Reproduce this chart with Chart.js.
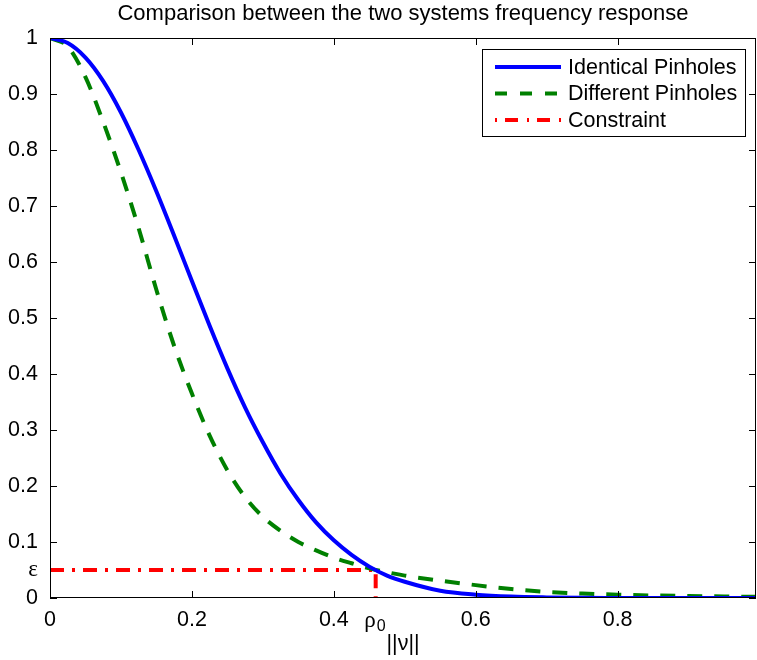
<!DOCTYPE html>
<html>
<head>
<meta charset="utf-8">
<script src="https://cdn.jsdelivr.net/npm/chart.js@4.4.0/dist/chart.umd.min.js"></script>
<style>body{margin:0;background:#fff}</style>
</head>
<body>
<canvas id="myChart" width="757" height="660"></canvas>
<script>
// ||v|| sample points
const nu = [0, 0.025, 0.05, 0.075, 0.1, 0.125, 0.15, 0.175, 0.2, 0.225, 0.25, 0.275, 0.3, 0.325, 0.35,
    0.375, 0.4, 0.425, 0.45, 0.475, 0.5, 0.55, 0.6, 0.65, 0.7, 0.75, 0.8, 0.85, 0.9, 0.95, 1.0];
const identicos = [1.0, 0.991, 0.965, 0.923, 0.867, 0.80, 0.726, 0.647, 0.566, 0.486, 0.41, 0.34, 0.278, 0.222, 0.175,
    0.135, 0.103, 0.077, 0.056, 0.04, 0.029, 0.013, 0.006, 0.0025, 0.001, 0.0003, 0.0001, 0, 0, 0, 0];
const diferentes = [1.0, 0.985, 0.93, 0.85, 0.76, 0.66, 0.55, 0.45, 0.365, 0.29, 0.228, 0.18, 0.145, 0.12, 0.1,
    0.085, 0.072, 0.062, 0.053, 0.046, 0.04, 0.031, 0.023, 0.016, 0.011, 0.008, 0.006, 0.0045, 0.0035, 0.0028, 0.002];
const epsilon = 0.05;
const rho0 = 0.459;
const xTicks = [0, 0.2, 0.4, 0.6, 0.8];
const yTicks = [0, 0.1, 0.2, 0.3, 0.4, 0.5, 0.6, 0.7, 0.8, 0.9, 1];
const nombres = ['Identical Pinholes', 'Different Pinholes', 'Constraint'];
const titulo = 'Comparison between the two systems frequency response';

const ctx = document.getElementById('myChart');
const fuente = 'Liberation Sans, Arial, sans-serif';
const griega = 'Liberation Serif, Times New Roman, serif';
const azul = '#0000ff';
const verde = '#008000';
const rojo = '#ff0000';
const rayaVerde = [15, 12];
const rayaRoja = [14, 8, 3, 8];

const puntos = (ys) => nu.map((x, i) => ({x: x, y: ys[i]}));

// title (centred on the axes), box around the axes, inward ticks, rho_0 subscript
const marco = {
    id: 'marco',
    afterDatasetsDraw(chart) {
        const c = chart.ctx;
        const a = chart.chartArea;
        const sx = chart.scales.x;
        const sy = chart.scales.y;
        c.save();
        c.strokeStyle = '#000';
        c.lineWidth = 1;
        c.strokeRect(a.left + 0.5, a.top + 0.5, a.right - a.left - 1, a.bottom - a.top - 1);
        c.beginPath();
        xTicks.forEach(v => {
            const px = Math.round(sx.getPixelForValue(v)) + 0.5;
            c.moveTo(px, a.bottom); c.lineTo(px, a.bottom - 7);
            c.moveTo(px, a.top); c.lineTo(px, a.top + 7);
        });
        yTicks.forEach(v => {
            const py = Math.round(sy.getPixelForValue(v)) + 0.5;
            c.moveTo(a.left, py); c.lineTo(a.left + 7, py);
            c.moveTo(a.right, py); c.lineTo(a.right - 7, py);
        });
        c.stroke();

        c.fillStyle = '#000';
        c.textAlign = 'center';
        c.textBaseline = 'alphabetic';
        c.font = '22px ' + fuente;
        c.fillText(titulo, (a.left + a.right) / 2, 20);

        c.font = '16px ' + fuente;
        c.textAlign = 'left';
        c.fillText('0', sx.getPixelForValue(rho0) + 1, a.bottom + 33);
        c.restore();
    }
};

// legend box in the upper right corner
const leyenda = {
    id: 'leyenda',
    afterDraw(chart) {
        const c = chart.ctx;
        const estilos = [
            {color: azul, dash: []},
            {color: verde, dash: [12, 13]},
            {color: rojo, dash: [2, 8, 13, 9]}
        ];
        c.save();
        c.fillStyle = '#fff';
        c.fillRect(482, 49, 263, 88);
        c.strokeStyle = '#000';
        c.lineWidth = 1;
        c.strokeRect(482.5, 49.5, 263, 87);
        estilos.forEach((e, i) => {
            const y = 67 + i * 26.5;
            c.beginPath();
            c.setLineDash(e.dash);
            c.strokeStyle = e.color;
            c.lineWidth = 4;
            c.moveTo(495, y);
            c.lineTo(561, y);
            c.stroke();
            c.setLineDash([]);
            c.fillStyle = '#000';
            c.font = '21.5px ' + fuente;
            c.textBaseline = 'middle';
            c.textAlign = 'left';
            c.fillText(nombres[i], 568, y + 1);
        });
        c.restore();
    }
};

new Chart(ctx, {
    type: 'line',
    data: {
        datasets: [
            {
                label: nombres[0],
                data: puntos(identicos),
                borderColor: azul,
                borderWidth: 4,
                pointRadius: 0,
                cubicInterpolationMode: 'monotone'
            },
            {
                label: nombres[1],
                data: puntos(diferentes),
                borderColor: verde,
                borderWidth: 4,
                borderDash: rayaVerde,
                pointRadius: 0,
                cubicInterpolationMode: 'monotone'
            },
            {
                label: nombres[2],
                data: [{x: 0, y: epsilon}, {x: rho0, y: epsilon}, {x: rho0, y: 0}],
                borderColor: rojo,
                borderWidth: 4,
                borderDash: rayaRoja,
                pointRadius: 0
            }
        ]
    },
    options: {
        responsive: false,
        animation: false,
        layout: {padding: {right: 1, top: 38}},
        plugins: {
            legend: {display: false},
            tooltip: {enabled: false},
            title: {display: false}
        },
        scales: {
            x: {
                type: 'linear',
                min: 0,
                max: 0.995,
                grid: {display: false, drawTicks: false},
                border: {display: false},
                afterBuildTicks: (s) => {
                    s.ticks = [0, 0.2, 0.4, rho0, 0.6, 0.8].map(v => ({value: v}));
                },
                afterFit: (s) => { s.height = 62; },
                ticks: {
                    autoSkip: false,
                    maxRotation: 0,
                    padding: 9,
                    color: '#000',
                    font: (c) => (c.tick && c.tick.value === rho0)
                        ? {family: griega, size: 23}
                        : {family: fuente, size: 21.5},
                    callback: (v) => v === rho0 ? 'ρ  ' : String(v)
                },
                title: {
                    display: true,
                    text: '||ν||',
                    color: '#000',
                    font: {family: fuente, size: 21.5},
                    padding: {top: 0, bottom: 3}
                }
            },
            y: {
                min: 0,
                max: 1,
                grid: {display: false, drawTicks: false},
                border: {display: false},
                afterBuildTicks: (s) => {
                    s.ticks = [0, epsilon].concat(yTicks.slice(1)).map(v => ({value: v}));
                },
                afterFit: (s) => { s.width = 50; },
                ticks: {
                    autoSkip: false,
                    padding: 12,
                    color: '#000',
                    font: (c) => (c.tick && c.tick.value === epsilon)
                        ? {family: griega, size: 23}
                        : {family: fuente, size: 21.5},
                    callback: (v) => v === epsilon ? 'ε' : String(v)
                }
            }
        }
    },
    plugins: [marco, leyenda]
});
</script>
</body>
</html>
